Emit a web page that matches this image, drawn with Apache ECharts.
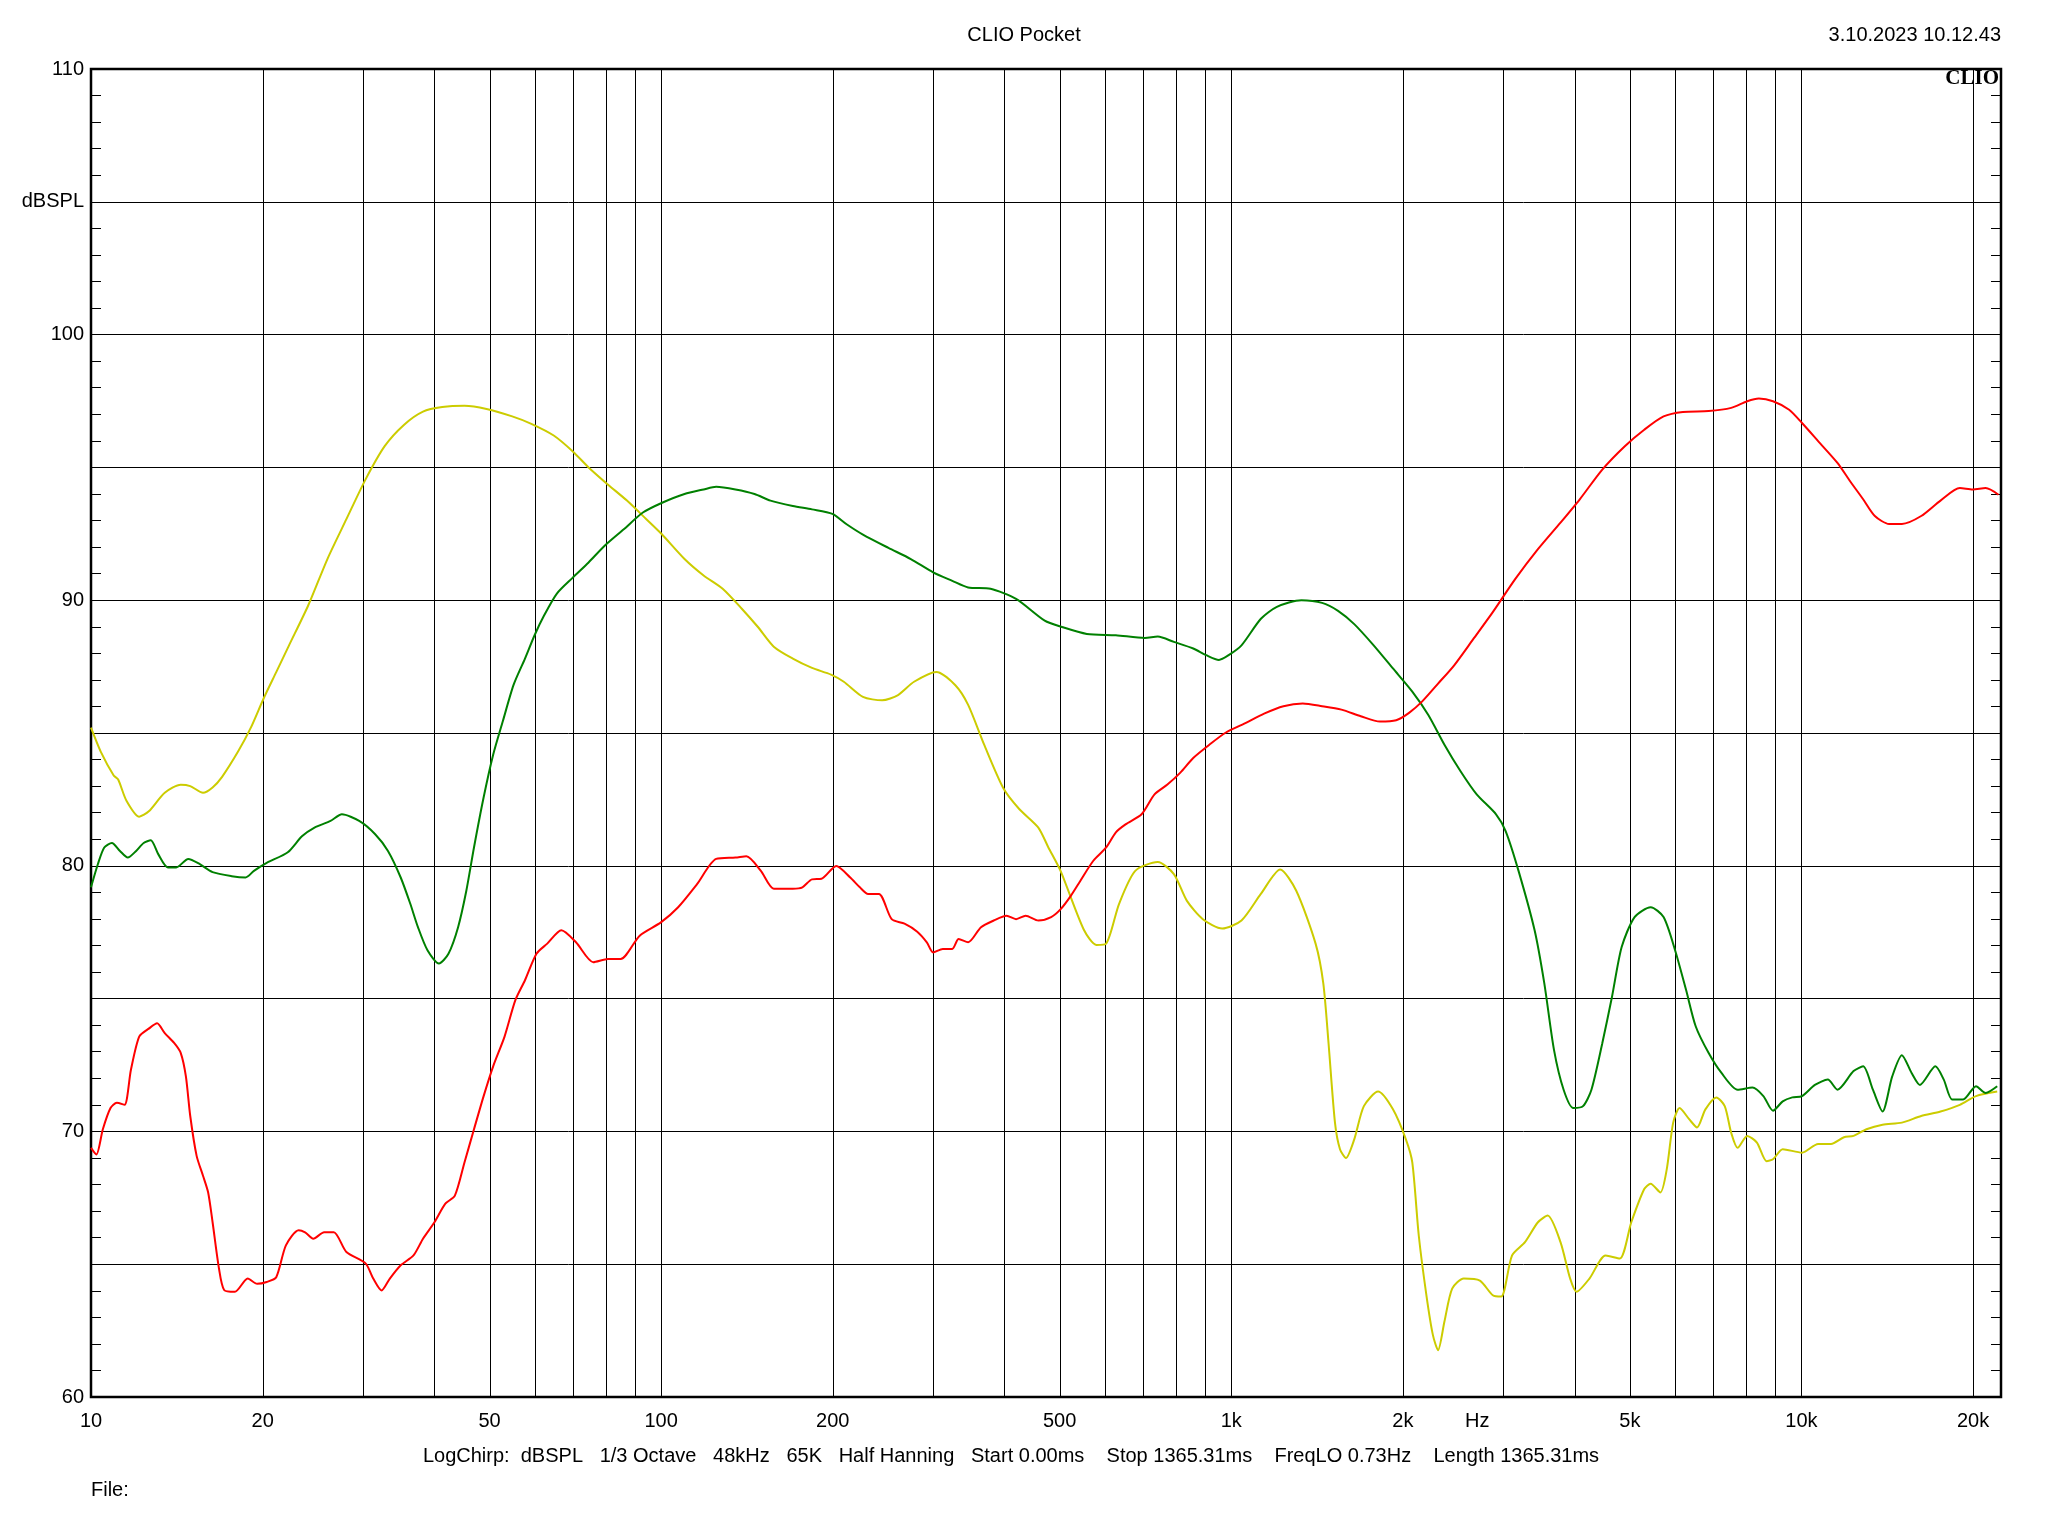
<!DOCTYPE html>
<html><head><meta charset="utf-8">
<script src="https://cdn.jsdelivr.net/npm/echarts/dist/echarts.min.js"></script>
<style>html,body{margin:0;padding:0;background:#fff}#c{width:2048px;height:1536px}</style>
</head><body><div id="c"></div>
<script>
const gridFreqs = [20,30,40,50,60,70,80,90,100,200,300,400,500,600,700,800,900,1000,2000,3000,4000,5000,6000,7000,8000,9000,10000,20000];
const xTickFreqs = [10,20,50,100,200,500,1000,2000,2700,5000,10000,20000];
const xTickLabels = ['10','20','50','100','200','500','1k','2k','Hz','5k','10k','20k'];
const yLabelMap = {60:'60',70:'70',80:'80',90:'90',100:'100',105:'dBSPL',110:'110'};

const yellowData = [[10,85.2],[10.4,84.3],[10.96,83.4],[11.16,83.25],[11.54,82.45],[12.15,81.85],[12.63,82.05],[13.47,82.75],[14.37,83.05],[14.93,83.0],[15.72,82.75],[16.34,82.95],[16.98,83.35],[18.11,84.3],[19.07,85.2],[20.08,86.3],[21.14,87.3],[22.25,88.3],[24.04,89.8],[25.98,91.55],[28.05,93.05],[30.31,94.55],[32.74,95.8],[35.38,96.6],[38.22,97.1],[41.3,97.27],[45.2,97.32],[49.4,97.2],[54.8,96.92],[59.2,96.64],[64.8,96.2],[70,95.6],[74.6,95.0],[80.7,94.35],[87.1,93.75],[94.2,93.05],[100.1,92.5],[109.9,91.55],[118.7,90.93],[128.2,90.43],[138.5,89.68],[147.7,89.0],[157.6,88.25],[170.2,87.8],[183.9,87.45],[198.6,87.2],[209.1,86.93],[225.9,86.36],[244.1,86.23],[260.3,86.43],[277.7,86.93],[303.9,87.3],[328.1,86.8],[345.5,86.06],[368.6,84.56],[398.1,82.93],[424.6,82.14],[458.7,81.44],[477.5,80.7],[502,79.8],[551,77.6],[580.2,77.02],[603.3,77.07],[635.6,78.57],[678.5,79.81],[743,80.14],[793,79.69],[835.4,78.69],[891.4,77.99],[963.9,77.64],[1042,77.94],[1126.6,78.94],[1218.2,79.86],[1300,79.06],[1405.5,77.07],[1450,75.57],[1481,73.32],[1520,70.33],[1551,69.33],[1589,69.0],[1643,69.7],[1708,70.95],[1809,71.5],[1921,70.83],[2024,69.7],[2077,68.83],[2132,66.08],[2199,63.83],[2257,62.34],[2305,61.76],[2365,62.84],[2440,64.08],[2557,64.46],[2729,64.38],[2875,63.83],[2974,63.78],[3108,65.33],[3274,65.83],[3450,66.58],[3588,66.83],[3779,65.83],[3929,64.46],[4032,63.96],[4248,64.46],[4534,65.33],[4800,65.21],[5030,66.58],[5300,67.83],[5439,68.03],[5656,67.7],[5805,68.58],[5957,70.33],[6114,70.88],[6359,70.45],[6560,70.15],[6785,70.83],[7091,71.28],[7336,70.95],[7529,69.95],[7727,69.38],[8034,69.83],[8354,69.58],[8686,68.88],[8915,68.95],[9271,69.33],[10023,69.2],[10696,69.53],[11267,69.53],[11872,69.78],[12343,69.83],[13002,70.08],[13875,70.25],[15003,70.33],[16218,70.58],[17535,70.75],[18960,71.0],[20237,71.33],[22046,71.5]];

const greenData = [[10,79.19],[10.28,80.06],[10.55,80.69],[10.88,80.86],[11.24,80.56],[11.6,80.31],[12.0,80.56],[12.37,80.86],[12.73,80.96],[13.12,80.44],[13.64,79.94],[14.11,79.94],[14.81,80.26],[15.52,80.06],[16.34,79.76],[17.65,79.61],[18.67,79.56],[19.31,79.81],[20.33,80.11],[22.14,80.51],[23.44,81.11],[24.66,81.44],[26.31,81.69],[27.55,81.94],[29.54,81.69],[31.51,81.19],[33.18,80.56],[34.93,79.56],[36.31,78.57],[37.45,77.69],[38.92,76.82],[40.77,76.32],[42.36,76.69],[44.04,77.69],[45.53,79.06],[46.96,80.69],[48.81,82.56],[50.74,84.18],[52.74,85.43],[55.1,86.81],[57.7,87.8],[59.98,88.68],[62.35,89.43],[65.63,90.25],[69.98,90.85],[74.6,91.42],[79.6,92.05],[86,92.67],[92.9,93.3],[100.4,93.67],[109.9,94.0],[118.7,94.17],[124.9,94.27],[135,94.17],[145.8,94.0],[155.5,93.75],[170.2,93.55],[183.9,93.42],[199.7,93.25],[211.8,92.85],[225.9,92.47],[250.4,91.97],[274.1,91.55],[299.9,91.05],[324.1,90.73],[345.5,90.48],[378.2,90.43],[419.3,90.05],[470.7,89.23],[503,89.0],[558,88.73],[627.4,88.68],[705.3,88.58],[743,88.63],[793,88.43],[857.5,88.18],[903.4,87.93],[951.4,87.75],[989.3,87.93],[1042,88.3],[1127,89.3],[1202,89.75],[1327,90.0],[1443,89.9],[1539,89.6],[1643,89.1],[1777,88.3],[1921,87.43],[2077,86.56],[2216,85.68],[2365,84.56],[2524,83.56],[2694,82.69],[2913,81.94],[3028,81.31],[3190,79.81],[3404,77.57],[3540,75.57],[3681,73.07],[3827,71.57],[3980,70.88],[4139,70.95],[4282,71.57],[4474,73.32],[4653,75.07],[4838,76.94],[5097,78.07],[5439,78.44],[5730,78.07],[6003,76.82],[6276,75.32],[6526,73.95],[6875,72.95],[7240,72.2],[7727,71.57],[8204,71.65],[8575,71.33],[8915,70.78],[9271,71.13],[9638,71.28],[10023,71.33],[10558,71.75],[11123,71.95],[11565,71.57],[12343,72.27],[12830,72.45],[13346,71.57],[13875,70.75],[14428,72.07],[15003,72.87],[15603,72.2],[16137,71.75],[17175,72.45],[17768,71.95],[18380,71.2],[19210,71.2],[20237,71.7],[21042,71.45],[22046,71.7]];

const redData = [[10,69.38],[10.22,69.13],[10.49,70.08],[10.82,70.88],[11.1,71.08],[11.45,71.0],[11.75,72.32],[12.15,73.57],[12.63,73.87],[13.06,74.07],[13.47,73.7],[14.0,73.32],[14.37,72.95],[14.67,72.07],[14.93,70.58],[15.32,69.08],[15.72,68.33],[16.05,67.7],[16.34,66.58],[16.77,64.83],[17.12,64.03],[17.88,63.96],[18.83,64.46],[19.56,64.26],[20.33,64.33],[21.13,64.51],[21.97,65.71],[23.13,66.28],[23.74,66.2],[24.54,65.96],[25.64,66.2],[26.66,66.2],[28.05,65.46],[30.31,65.03],[31.26,64.46],[32.33,64.01],[33.43,64.46],[34.93,64.96],[36.78,65.33],[38.22,65.96],[40.03,66.58],[41.83,67.28],[43.47,67.58],[45.19,68.83],[46.96,70.08],[48.81,71.32],[50.74,72.45],[53.13,73.57],[55.5,74.94],[57.7,75.69],[60.44,76.69],[63.13,77.07],[66.83,77.57],[70.9,77.12],[76.03,76.37],[80.67,76.49],[84.9,76.49],[91.7,77.37],[99.9,77.87],[107.1,78.44],[115.6,79.31],[124.9,80.26],[135,80.31],[141.1,80.36],[149.6,79.81],[157.6,79.14],[170.2,79.14],[176.9,79.19],[183.9,79.49],[191.1,79.51],[202.8,79.99],[214.6,79.56],[223.1,79.19],[230.7,78.94],[241,78.94],[253.7,77.99],[267.2,77.82],[281.3,77.52],[292.4,77.12],[299.9,76.74],[311.8,76.87],[324,76.87],[332.5,77.24],[345.5,77.12],[363.9,77.69],[383.1,77.94],[403.4,78.12],[419.3,77.99],[435.8,78.12],[458.8,77.94],[483.1,78.07],[502,78.37],[523,78.87],[543.7,79.44],[572.8,80.19],[603.3,80.69],[627.4,81.26],[652.4,81.56],[696,81.94],[733.4,82.69],[772.6,83.06],[814,83.51],[857.5,84.06],[915.2,84.56],[977,85.01],[1056,85.36],[1141.6,85.73],[1234.4,86.01],[1334.6,86.11],[1443,86.01],[1560,85.88],[1687,85.63],[1823,85.43],[1946,85.48],[2050,85.76],[2160,86.18],[2305,86.86],[2460,87.55],[2660,88.55],[2875,89.55],[3149,90.8],[3450,91.92],[3779,92.92],[4085,93.8],[4474,94.92],[4900,95.8],[5300,96.42],[5730,96.92],[6194,97.09],[6875,97.12],[7529,97.24],[8034,97.49],[8420,97.59],[8915,97.49],[9515,97.17],[10023,96.67],[10696,95.99],[11565,95.17],[12180,94.47],[12830,93.8],[13450,93.17],[14245,92.87],[15003,92.87],[16218,93.17],[17535,93.75],[18960,94.22],[19973,94.17],[21042,94.22],[22163,93.97]];

const FONT = '"Liberation Sans", Arial, sans-serif';
const FS = 20;
const chart = echarts.init(document.getElementById('c'), null, {renderer:'canvas'});

function lineSeries(name, data, color, z) {
  return {name, type:'line', data, showSymbol:false, symbol:'none', smooth:0.25, z,
    lineStyle:{color, width:2}, itemStyle:{color}, animation:false, clip:true};
}

const option = {
  animation:false,
  backgroundColor:'#fff',
  grid:{left:91, top:69, width:1910, height:1328, show:true, borderColor:'#000', borderWidth:2.5,
        backgroundColor:'transparent', containLabel:false, outerBoundsMode:'none'},
  xAxis:{type:'log', logBase:10, min:10, max:22387,
    axisLine:{show:false}, axisTick:{show:false}, axisLabel:{show:false}, splitLine:{show:false}, minorSplitLine:{show:false}},
  yAxis:[
    {type:'value', min:60, max:110, interval:5, position:'left',
      axisLine:{show:false},
      axisTick:{show:true, inside:true, length:10, lineStyle:{color:'#000', width:1}},
      minorTick:{show:true, splitNumber:5, length:10, lineStyle:{color:'#000', width:1}},
      axisLabel:{show:true, margin:7, color:'#000', fontSize:FS, fontFamily:FONT,
        formatter:(v)=> (yLabelMap[v] !== undefined ? yLabelMap[v] : '')},
      splitLine:{show:true, lineStyle:{color:'#000', width:1}}},
    {type:'value', min:60, max:110, interval:5, position:'right',
      axisLine:{show:false},
      axisTick:{show:true, inside:true, length:10, lineStyle:{color:'#000', width:1}},
      minorTick:{show:true, splitNumber:5, length:10, lineStyle:{color:'#000', width:1}},
      axisLabel:{show:false}, splitLine:{show:false}}
  ],
  graphic:[
    {type:'text', x:1024, y:35, style:{text:'CLIO Pocket', font:FS+'px '+FONT, fill:'#000', align:'center', verticalAlign:'middle'}},
    {type:'text', x:2001, y:35, style:{text:'3.10.2023 10.12.43', font:FS+'px '+FONT, fill:'#000', align:'right', verticalAlign:'middle'}},
    {type:'text', x:1999, y:79, z:100, style:{text:'CLIO', font:'bold 21px "Liberation Serif", "DejaVu Serif", serif', fill:'#000', align:'right', verticalAlign:'middle'}},
    {type:'text', x:1011, y:1456, style:{text:'LogChirp:  dBSPL   1/3 Octave   48kHz   65K   Half Hanning   Start 0.00ms    Stop 1365.31ms    FreqLO 0.73Hz    Length 1365.31ms', font:FS+'px '+FONT, fill:'#000', align:'center', verticalAlign:'middle'}},
    {type:'text', x:91, y:1490, style:{text:'File:', font:FS+'px '+FONT, fill:'#000', align:'left', verticalAlign:'middle'}}
  ],
  series:[
    {type:'custom', name:'vgrid', silent:true, z:1, clip:true, animation:false,
      data: gridFreqs.map(f=>[f,60]), encode:{x:0, y:1},
      renderItem:(params, api)=>{
        const f = api.value(0);
        const a = api.coord([f,110]), b = api.coord([f,60]);
        const x = Math.round(a[0]) + 0.5;
        return {type:'line', shape:{x1:x, y1:a[1], x2:x, y2:b[1]}, style:{stroke:'#000', lineWidth:1}};
      }},
    {type:'custom', name:'xlabels', silent:true, z:5, clip:false, animation:false,
      data: xTickFreqs.map((f,i)=>[f,60,i]), encode:{x:0, y:1},
      renderItem:(params, api)=>{
        const f = api.value(0), i = api.value(2);
        const p = api.coord([f,60]);
        return {type:'text', x:p[0], y:p[1]+24, style:{text:xTickLabels[i], font:FS+'px '+FONT, fill:'#000', align:'center', verticalAlign:'middle'}};
      }},
    lineSeries('yellow', yellowData, '#CCCC00', 3),
    lineSeries('green', greenData, '#008000', 4),
    lineSeries('red', redData, '#FF0000', 5)
  ]
};
chart.setOption(option);
</script>
</body></html>
